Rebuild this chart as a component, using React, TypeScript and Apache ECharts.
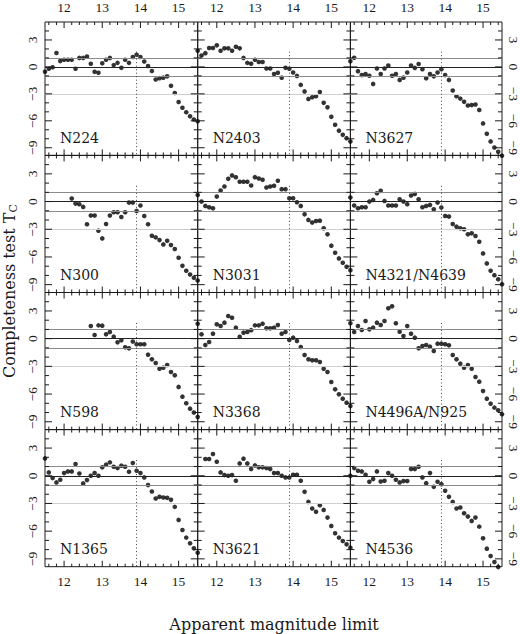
import React, { useEffect, useRef } from "react";
import * as echarts from "echarts";

// apparent magnitude limit, shared by every panel
const MAGS = [
  11.5, 11.6, 11.7, 11.8, 11.9, 12.0, 12.1, 12.2, 12.3, 12.4, 12.5, 12.6, 12.7, 12.8,
  12.9, 13.0, 13.1, 13.2, 13.3, 13.4, 13.5, 13.6, 13.7, 13.8, 13.9, 14.0, 14.1, 14.2,
  14.3, 14.4, 14.5, 14.6, 14.7, 14.8, 14.9, 15.0, 15.1, 15.2, 15.3, 15.4, 15.5,
];

const N224 = [-0.55, -0.2, -0.05, 1.55, 0.65, 0.8, 0.8, 0.8, -0.2, 1.0, 1.0, 1.15, 0.35, -0.55, -0.65, 0.4, 0.8, 1.0, 0.2, 0.45, -0.1, 0.8, 0.45, 1.1, 1.35, 1.1, 0.6, 0.1, -0.45, -1.4, -1.25, -1.2, -1.05, -2.1, -2.9, -3.9, -4.55, -5.05, -5.5, -5.85, -6.05];
const N2403 = [1.8, 1.27, 1.53, 2.1, 2.1, 2.4, 1.8, 2.07, 2.07, 1.8, 2.25, 2.07, 1.0, 0.45, 0.36, 0.8, 0.55, 0.55, -0.18, -0.18, -0.8, -0.65, -1.2, -0.1, -0.2, -0.62, -1.0, -2.0, -2.73, -3.56, -3.38, -3.27, -2.8, -4.0, -4.5, -5.56, -6.44, -7.1, -7.56, -7.93, -8.3];
const N3627 = [0.62, 1.02, -0.47, -0.91, -0.8, -0.98, -1.89, -0.18, -0.8, -0.18, 0.15, -0.98, -0.8, -1.45, -1.2, -0.62, 0.15, -0.11, 0.33, -0.25, -1.27, -0.8, -1.05, -0.62, -0.25, -0.91, -1.45, -2.62, -3.27, -3.53, -3.89, -4.29, -4.25, -4.18, -4.8, -6.29, -7.45, -8.29, -8.98, -9.45, -9.88];
const N300 = [null, null, null, null, null, null, null, 0.33, -0.22, -0.29, -0.58, -2.46, -1.52, -1.52, -3.15, -3.99, -2.43, -1.52, -1.16, -1.16, -1.67, -1.16, -0.11, -0.11, -1.01, -0.43, -1.56, -2.46, -3.7, -3.88, -4.17, -4.64, -4.24, -4.71, -5.14, -6.09, -6.96, -7.5, -7.9, -8.26, -8.55];
const N3031 = [0.72, 0.0, -0.47, -0.62, -0.72, 0.54, 1.2, 1.63, 2.46, 2.83, 2.64, 2.15, 2.15, 2.15, 1.74, 2.64, 2.5, 2.36, 1.52, 1.63, 1.7, 2.25, 1.34, 1.34, 0.36, 0.36, -0.07, -0.47, -1.38, -1.99, -2.28, -2.1, -2.07, -2.9, -3.55, -4.78, -5.54, -6.16, -6.63, -7.07, -7.43];
const N4321 = [0.43, -0.43, -0.72, -0.62, -0.62, 0.0, 0.18, 0.9, 1.16, 0.07, -0.43, -0.43, -0.43, 0.25, 0.0, -0.29, 0.65, 0.83, 0.25, -0.62, -0.47, -0.36, -0.83, -0.11, -0.65, -1.56, -1.63, -2.43, -2.72, -2.9, -3.0, -3.55, -3.44, -3.73, -4.35, -5.62, -6.7, -7.5, -7.97, -8.41, -8.95];
const N598 = [null, null, null, null, null, null, null, null, null, null, null, null, 1.37, 0.4, 1.44, 1.41, 0.47, 0.72, 0.22, -0.4, -0.18, -0.94, -1.05, -0.32, -0.61, -0.61, -0.61, -1.73, -2.24, -2.64, -3.25, -3.14, -2.85, -3.61, -3.97, -5.23, -6.28, -7.0, -7.58, -8.01, -8.48];
const N3368 = [1.62, 0.47, -0.69, -0.36, 0.54, 1.55, 1.37, 1.73, 2.45, 2.27, 1.19, 0.2, 0.65, 0.72, 0.92, 1.44, 1.44, 1.62, 1.12, 1.12, 1.19, 1.48, 0.54, 0.72, -0.14, 0.11, -0.25, -0.9, -1.77, -2.24, -2.35, -2.35, -2.53, -3.25, -3.61, -4.69, -5.49, -6.03, -6.5, -6.93, -7.29];
const N4496 = [1.66, 0.72, 1.37, 0.94, 1.91, 1.01, 1.19, 1.73, 1.48, 1.91, 3.29, 3.5, 1.66, 0.76, 0.29, 1.37, 0.54, 0.11, -1.05, -0.79, -0.69, -0.87, -1.34, -0.54, -0.54, -0.61, -0.72, -1.77, -2.24, -2.71, -3.14, -2.85, -3.25, -4.15, -4.66, -5.67, -6.5, -7.04, -7.47, -7.76, -8.19];
const N1365 = [1.88, 0.36, -0.25, -0.72, -0.43, 0.29, 0.47, 0.47, 1.27, 0.25, -0.83, -0.47, 0.0, 0.29, 0.0, 0.91, 1.2, 1.45, 0.98, 0.83, 1.09, 0.98, 0.43, 1.38, 0.54, 0.29, -0.18, -1.01, -1.7, -2.46, -2.28, -2.36, -2.39, -2.61, -3.37, -4.78, -5.87, -6.7, -7.32, -7.86, -8.33];
const N3621 = [null, null, 1.81, 1.81, 2.36, 1.52, 0.36, 0.07, 0.0, 0.07, -0.54, 1.34, 1.85, 1.34, 0.72, 1.12, 0.91, 0.91, 0.83, 0.72, 0.29, 0.29, 0.0, -0.18, -0.18, 0.11, 0.11, -0.54, -1.74, -2.83, -3.55, -3.91, -3.19, -3.7, -4.53, -5.43, -6.23, -6.7, -7.07, -7.43, -7.79];
const N4536 = [0.0, 0.83, 0.54, 0.47, 0.11, -0.65, -0.36, 0.47, -0.62, -0.54, 0.29, 0.0, -0.43, -0.72, -0.58, -0.58, 0.72, 0.72, 0.98, -0.18, -0.8, 0.29, -1.2, -0.65, -0.91, -1.63, -2.28, -2.83, -3.55, -3.44, -4.06, -4.42, -4.89, -4.53, -5.51, -6.78, -7.9, -8.7, -9.35, -9.89, null];

const PANEL_NAMES = [
  "N224", "N2403", "N3627",
  "N300", "N3031", "N4321/N4639",
  "N598", "N3368", "N4496A/N925",
  "N1365", "N3621", "N4536",
];
const PANEL_VALUES = [
  N224, N2403, N3627,
  N300, N3031, N4321,
  N598, N3368, N4496,
  N1365, N3621, N4536,
];

const X_MAJOR = [12, 13, 14, 15];
const X_MINOR = [11.6, 11.8, 12.2, 12.4, 12.6, 12.8, 13.2, 13.4, 13.6, 13.8, 14.2, 14.4, 14.6, 14.8, 15.2, 15.4];
const Y_MAJOR = [-9, -6, -3, 0, 3];
const Y_MINOR = [-8, -7, -5, -4, -2, -1, 1, 2, 4];
const REF_LINES = [0, 1, -1, -3];
const LIMIT_MAG = 13.9;

const X_MIN = 11.5;
const X_MAX = 15.5;
const Y_MIN = -9.85;
const Y_MAX = 5;

const L = 45;
const T = 18.3;
const PW = 152.7;
const PH = 137.1;

const NUM_FONT = "Liberation Serif";
const TXT_FONT = "DejaVu Serif";
const INK = "#1a1a1a";

const fmtMinus = (v: number) => String(v).replace("-", "\u2212");

const App: React.FC = () => {
  const ref = useRef<HTMLDivElement>(null);

  useEffect(() => {
    if (!ref.current) return;
    const chart = echarts.init(ref.current, null, { renderer: "svg" });

    const grids: any[] = [];
    const xAxes: any[] = [];
    const yAxes: any[] = [];
    const series: any[] = [];
    const texts: any[] = [];

    const numLabel = { fontFamily: NUM_FONT, fontSize: 13.5, color: INK };

    PANEL_VALUES.forEach((vals, g) => {
      const r = Math.floor(g / 3);
      const c = g % 3;
      const left = L + c * PW;
      const top = T + r * PH;
      grids.push({
        left,
        top,
        width: PW,
        height: PH,
        show: true,
        borderColor: INK,
        borderWidth: 1,
        backgroundColor: "transparent",
      });

      (["bottom", "top"] as const).forEach((pos) => {
        xAxes.push({
          gridIndex: g,
          type: "value",
          min: X_MIN,
          max: X_MAX,
          position: pos,
          axisLine: { show: false, onZero: false },
          splitLine: { show: false },
          axisTick: { show: false },
          axisLabel: {
            show: (pos === "bottom" && r === 3) || (pos === "top" && r === 0),
            customValues: X_MAJOR,
            margin: 8,
            ...numLabel,
          },
        });
      });

      (["left", "right"] as const).forEach((pos) => {
        yAxes.push({
          gridIndex: g,
          type: "value",
          min: Y_MIN,
          max: Y_MAX,
          position: pos,
          axisLine: { show: false, onZero: false },
          splitLine: { show: false },
          axisTick: { show: false },
          axisLabel: {
            show: (pos === "left" && c === 0) || (pos === "right" && c === 2),
            customValues: Y_MAJOR,
            rotate: pos === "left" ? 90 : -90,
            margin: pos === "left" ? 6 : 4,
            formatter: (v: number) => fmtMinus(v),
            ...numLabel,
          },
        });
      });

      const data = MAGS.map((m, i) => [m, vals[i]]).filter((d) => d[1] !== null);

      series.push({
        type: "scatter",
        xAxisIndex: g * 2,
        yAxisIndex: g * 2,
        data,
        symbol: "circle",
        symbolSize: 4.6,
        clip: false,
        itemStyle: { color: "#000" },
        silent: true,
        markLine: {
          silent: true,
          symbol: ["none", "none"],
          label: { show: false },
          animation: false,
          data: [
            ...REF_LINES.map((y) => ({
              yAxis: y,
              lineStyle: {
                type: "solid",
                width: y === 0 ? 1.1 : 1.2,
                color: y === 0 ? "#222" : y === -3 ? "#cfcfcf" : "#8a8a8a",
              },
            })),
            [
              { coord: [LIMIT_MAG, 1.7], lineStyle: { type: [1, 2.5], color: "#444", width: 1 } },
              { coord: [LIMIT_MAG, Y_MIN] },
            ],
          ],
        },
      });

      texts.push({
        type: "text",
        x: left + 15,
        y: top + PH - 17.5,
        style: {
          text: PANEL_NAMES[g],
          fontFamily: TXT_FONT,
          fontSize: 14,
          fill: INK,
          align: "left",
          verticalAlign: "middle",
        },
      });
    });

    texts.push({
      type: "text",
      x: L + (3 * PW) / 2,
      y: 624,
      style: {
        text: "Apparent magnitude limit",
        fontFamily: TXT_FONT,
        fontSize: 16,
        fill: INK,
        align: "center",
        verticalAlign: "middle",
      },
    });

    texts.push({
      type: "text",
      x: 9,
      y: 291,
      rotation: Math.PI / 2,
      style: {
        text: "{a|Completeness test T}{s|C}",
        align: "center",
        verticalAlign: "middle",
        rich: {
          a: { fontFamily: TXT_FONT, fontSize: 16, fill: INK, lineHeight: 20 },
          s: { fontFamily: TXT_FONT, fontSize: 11, fill: INK, verticalAlign: "bottom", padding: [8, 0, 0, 0] },
        },
      },
    });

    chart.setOption({
      animation: false,
      grid: grids,
      xAxis: xAxes,
      yAxis: yAxes,
      series,
    });

    // inward tick marks on all four sides of every panel, placed with the panel's own scales
    const ticks: any[] = [];
    const tickLine = (a: number[], b: number[]) => ({
      type: "line",
      silent: true,
      z: 10,
      shape: { x1: a[0], y1: a[1], x2: b[0], y2: b[1] },
      style: { stroke: INK, lineWidth: 1 },
    });
    PANEL_VALUES.forEach((_, g) => {
      const toPx = (x: number, y: number) =>
        chart.convertToPixel({ xAxisIndex: g * 2, yAxisIndex: g * 2 }, [x, y]) as number[];
      const xt = (vals: number[], len: number) =>
        vals.forEach((v) => {
          const b = toPx(v, Y_MIN);
          const t = toPx(v, Y_MAX);
          ticks.push(tickLine(b, [b[0], b[1] - len]));
          ticks.push(tickLine(t, [t[0], t[1] + len]));
        });
      const yt = (vals: number[], len: number) =>
        vals.forEach((v) => {
          const l = toPx(X_MIN, v);
          const rr = toPx(X_MAX, v);
          ticks.push(tickLine(l, [l[0] + len, l[1]]));
          ticks.push(tickLine(rr, [rr[0] - len, rr[1]]));
        });
      xt(X_MAJOR, 6);
      xt(X_MINOR, 3);
      yt(Y_MAJOR, 7);
      yt(Y_MINOR, 4);
    });

    chart.setOption({ graphic: [...texts, ...ticks] });

    return () => {
      chart.dispose();
    };
  }, []);

  return (
    <div
      ref={ref}
      style={{ position: "fixed", left: 0, top: 0, width: "520px", height: "634px", background: "#fff" }}
    />
  );
};

export default App;
